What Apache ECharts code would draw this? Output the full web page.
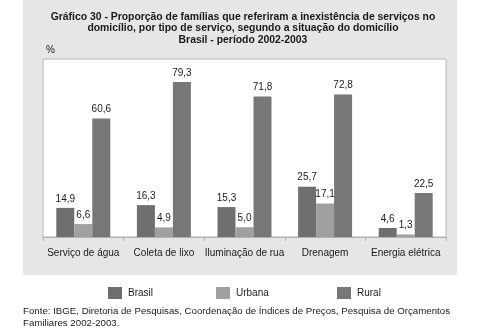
<!DOCTYPE html>
<html><head><meta charset="utf-8">
<script src="https://cdn.jsdelivr.net/npm/echarts@6/dist/echarts.min.js"></script>
<style>html,body{margin:0;padding:0;background:#fff}#c{width:477px;height:333px}</style>
</head><body><div id="c"></div>
<script>
const categories = ['Serviço de água', 'Coleta de lixo', 'Iluminação de rua', 'Drenagem', 'Energia elétrica'];
const brasil = [14.9, 16.3, 15.3, 25.7, 4.6];
const urbana = [6.6, 4.9, 5.0, 17.1, 1.3];
const rural = [60.6, 79.3, 71.8, 72.8, 22.5];
const seriesNames = ['Brasil', 'Urbana', 'Rural'];

const FONT = '"Liberation Sans", Arial, Helvetica, sans-serif';
const chart = echarts.init(document.getElementById('c'), null, {renderer: 'canvas'});
const fmt = p => String(p.value.toFixed(1)).replace('.', ',');
const lbl = {show: true, position: 'top', distance: 4, formatter: fmt, color: '#1a1a1a', fontFamily: FONT, fontSize: 10};
const legendBase = {orient: 'horizontal', top: 282, itemWidth: 14, itemHeight: 12, itemGap: 10,
  textStyle: {fontFamily: FONT, fontSize: 10, color: '#1a1a1a', padding: [0, 0, 0, 1]}, icon: 'rect'};
chart.setOption({
  animation: false,
  graphic: [
    {type: 'rect', z: -10, shape: {x: 23, y: 0, width: 434, height: 275}, style: {fill: '#e6e6e6'}},
    {type: 'text', left: 46, top: 45, style: {text: '%', font: '10px ' + FONT, fill: '#1a1a1a'}},
    {type: 'text', left: 23, top: 305, style: {text: 'Fonte: IBGE, Diretoria de Pesquisas, Coordenação de Índices de Preços, Pesquisa de Orçamentos\nFamiliares 2002-2003.', font: '9.7px ' + FONT, fill: '#1a1a1a', lineHeight: 12}}
  ],
  title: {
    text: 'Gráfico 30 - Proporção de famílias que referiram a inexistência de serviços no\ndomicílio, por tipo de serviço, segundo a situação do domicílio\nBrasil - período 2002-2003',
    left: 238, top: 6, textAlign: 'center',
    textStyle: {fontFamily: FONT, fontSize: 10.4, fontWeight: 'bold', color: '#1a1a1a', lineHeight: 11.5}
  },
  legend: [
    Object.assign({}, legendBase, {left: 103, data: ['Brasil']}),
    Object.assign({}, legendBase, {left: 211, data: ['Urbana']}),
    Object.assign({}, legendBase, {left: 332, data: ['Rural']})
  ],
  grid: {left: 43, top: 59, width: 403, height: 178, show: true, backgroundColor: '#ffffff', borderColor: '#b8b8b8', borderWidth: 1},
  xAxis: {
    type: 'category', data: categories,
    axisLine: {lineStyle: {color: '#b0b0b0', width: 1}},
    axisTick: {show: true, length: 4, lineStyle: {color: '#b0b0b0'}},
    axisLabel: {color: '#1a1a1a', fontFamily: FONT, fontSize: 10, margin: 11, interval: 0}
  },
  yAxis: {type: 'value', min: 0, max: 91, show: false, splitLine: {show: false}},
  series: [
    {name: seriesNames[0], type: 'bar', data: brasil, barGap: '0%', barCategoryGap: '33%', itemStyle: {color: '#6f6f6f'}, label: lbl},
    {name: seriesNames[1], type: 'bar', data: urbana, barGap: '0%', barCategoryGap: '33%', itemStyle: {color: '#a0a0a0'}, label: lbl},
    {name: seriesNames[2], type: 'bar', data: rural, barGap: '0%', barCategoryGap: '33%', itemStyle: {color: '#777777'}, label: lbl}
  ]
});
</script></body></html>
